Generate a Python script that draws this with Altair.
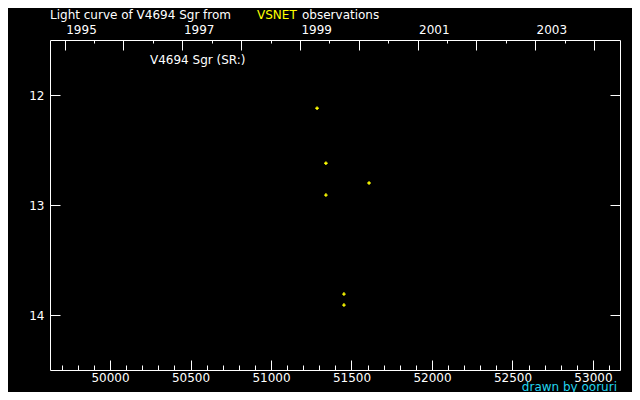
import altair as alt
import pandas as pd

# ---- data ----
jd = [51286, 51341, 51609, 51341, 51453, 51453]
mag = [12.12, 12.62, 12.80, 12.91, 13.81, 13.91]

jd_major = [50000, 50500, 51000, 51500, 52000, 52500, 53000]
jd_minor = [49700, 49800, 49900, 50000, 50100, 50200, 50300, 50400, 50500, 50600,
            50700, 50800, 50900, 51000, 51100, 51200, 51300, 51400, 51500, 51600,
            51700, 51800, 51900, 52000, 52100, 52200, 52300, 52400, 52500, 52600,
            52700, 52800, 52900, 53000, 53100]
year_start_jd = [49718.5, 50083.5, 50449.5, 50814.5, 51179.5, 51544.5,
                 51910.5, 52275.5, 52640.5, 53005.5]
year_mid_jd = [49900.5, 50266.5, 50631.5, 50997.5, 51362.5, 51727.5,
               52093.5, 52458.5, 52823.5]
year_label_jd = [49718.5, 50449.5, 51179.5, 51910.5, 52640.5]
year_labels = ["1995", "1997", "1999", "2001", "2003"]
mag_ticks = [12, 13, 14]

x_domain = [49627, 53168]
y_domain = [11.5, 14.5]

title_main = "Light curve of V4694 Sgr from"
title_src = "VSNET"
title_end = "observations"
star_label = "V4694 Sgr (SR:)"
credit = "drawn by ooruri"

FONT = "DejaVu Sans"

df = pd.DataFrame({"jd": jd, "mag": mag})

W, H = 570, 330


def xs():
    return alt.Scale(domain=x_domain, nice=False, zero=False)


def ys():
    return alt.Scale(domain=y_domain, reverse=True, nice=False, zero=False)


def xenc(axis):
    return alt.X("jd:Q", scale=xs(), axis=axis, title=None)


def yenc(axis):
    return alt.Y("mag:Q", scale=ys(), axis=axis, title=None)


year_expr = " : ".join(
    f"abs(datum.value - {v}) < 1 ? '{t}'" for v, t in zip(year_label_jd, year_labels)
) + " : ''"

tick_common = dict(labels=False, domain=False, grid=False, tickColor="white", tickWidth=1)

# points + bottom labels + left labels
points = alt.Chart(df).mark_point(
    shape="cross", filled=True, size=12, color="#ffff00", strokeWidth=0, opacity=1
).encode(
    x=xenc(alt.Axis(orient="bottom", values=jd_major, ticks=False, tickSize=0,
                    domain=False, grid=False, labelPadding=7.5, labelBaseline="middle",
                    format="d", labelFlush=False, labelOverlap=False)),
    y=yenc(alt.Axis(orient="left", values=mag_ticks, ticks=False, tickSize=0,
                    domain=False, grid=False, labelPadding=6, labelBaseline="middle",
                    labelAlign="right", format="d", labelOverlap=False)),
)

# bottom major ticks (inward) + left ticks (inward)
l2 = alt.Chart(df).mark_point(opacity=0).encode(
    x=xenc(alt.Axis(orient="top", offset=-H, values=jd_major, tickSize=10, **tick_common)),
    y=yenc(alt.Axis(orient="right", offset=-W, values=mag_ticks, tickSize=10, **tick_common)),
)

# bottom minor ticks + right ticks (inward)
l3 = alt.Chart(df).mark_point(opacity=0).encode(
    x=xenc(alt.Axis(orient="top", offset=-H, values=jd_minor, tickSize=5, **tick_common)),
    y=yenc(alt.Axis(orient="left", offset=-W, values=mag_ticks, tickSize=10, **tick_common)),
)

# top year labels
l4 = alt.Chart(df).mark_point(opacity=0).encode(
    x=xenc(alt.Axis(orient="top", values=year_label_jd, ticks=False, tickSize=0,
                    domain=False, grid=False, labelExpr=year_expr, labelAlign="left",
                    labelBaseline="alphabetic", labelPadding=6.8, labelOffset=1,
                    labelFlush=False, labelOverlap=False)),
    y=yenc(None),
)

# top year ticks (inward)
l5 = alt.Chart(df).mark_point(opacity=0).encode(
    x=xenc(alt.Axis(orient="bottom", offset=-H, values=year_start_jd, tickSize=10, **tick_common)),
    y=yenc(None),
)

# top half-year ticks (inward)
l6 = alt.Chart(df).mark_point(opacity=0).encode(
    x=xenc(alt.Axis(orient="bottom", offset=-H, values=year_mid_jd, tickSize=3, **tick_common)),
    y=yenc(None),
)


def text_layer(txt, x, y, color="white", align="left", size=12):
    return alt.Chart(pd.DataFrame({"t": [txt]})).mark_text(
        align=align, baseline="alphabetic", font=FONT, fontSize=size, color=color
    ).encode(x=alt.value(x), y=alt.value(y), text="t:N")


t1 = text_layer(title_main, 0, -20.8)
t2 = text_layer(title_src, 207, -20.8, color="#ffff00")
t3 = text_layer(title_end, 252, -20.8)
t4 = text_layer(star_label, 100, 24.3)
t5 = text_layer(credit, 567, 350.5, color="#22d4f0", align="right")

chart = alt.layer(points, l2, l3, l4, l5, l6, t1, t2, t3, t4, t5).resolve_scale(
    x="independent", y="independent"
).properties(
    width=W, height=H,
    padding={"left": 42, "top": 32, "right": 12, "bottom": 22},
    autosize=alt.AutoSizeParams(type="none"),
).configure(
    background="black",
).configure_view(
    stroke="white", strokeWidth=1, fill="black",
).configure_axis(
    labelColor="white", labelFont=FONT, labelFontSize=12, tickColor="white",
)

chart.save("out.html", embed_options={"renderer": "svg", "actions": False})
